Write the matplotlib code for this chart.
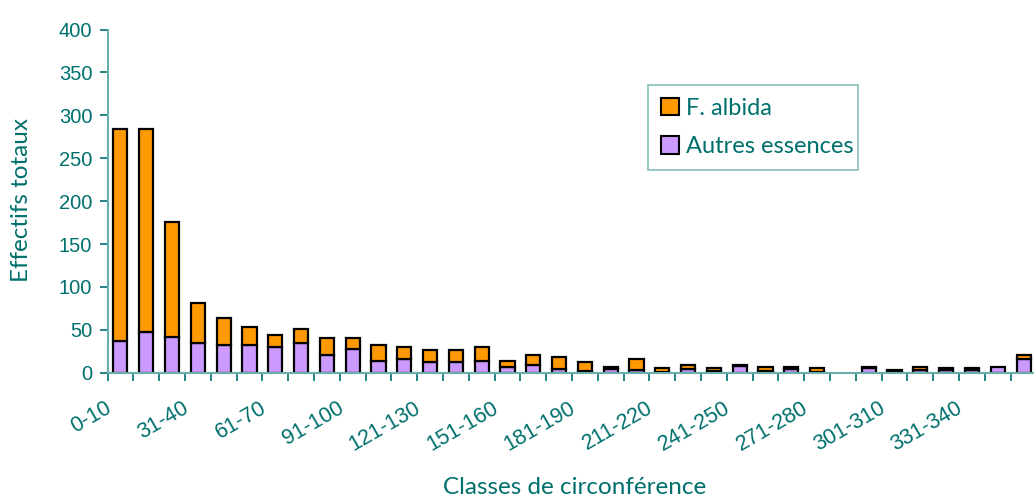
import numpy as np
import matplotlib
matplotlib.use('Agg')
import matplotlib.pyplot as plt
import matplotlib.transforms as mtransforms
from matplotlib.patches import Patch

# classes de circonférence (cm)
classes = ['0-10'] + [f'{10 * k + 1}-{10 * k + 10}' for k in range(1, 36)]

# effectifs
total = [284, 284, 176, 81, 64, 53, 44, 51, 40, 41, 32, 30, 26, 27, 30, 14, 21, 18,
         12, 7, 16, 6, 9, 5, 9, 7, 7, 5, 0, 7, 3, 7, 5, 5, 7, 21]
autres = [37, 48, 42, 35, 32, 32, 30, 35, 21, 28, 14, 16, 12, 12, 14, 7, 9, 4,
          2, 4, 3, 1, 4, 2, 8, 2, 4, 1, 0, 5, 1, 3, 3, 3, 7, 16]
albida = [t - a for t, a in zip(total, autres)]

yticks = [0, 50, 100, 150, 200, 250, 300, 350, 400]

TEXT = '#00706d'
SPINE = '#6aaeab'
ORANGE = '#ff9900'
PURPLE = '#cc99ff'

fig = plt.figure(figsize=(10.34, 4.99), dpi=100)
W, H = 1034, 499
left, right, bottom, top = 107.5, 1036.5, 372.7, 29.5
ax = fig.add_axes([left / W, (H - bottom) / H, (right - left) / W, (bottom - top) / H])

x = np.arange(len(classes))
# pas de contour pour les classes vides
lw_a = [1.6 if v > 0 else 0 for v in autres]
lw_b = [1.6 if v > 0 else 0 for v in albida]
ax.bar(x, autres, width=0.55, color=PURPLE, edgecolor='black', linewidth=lw_a)
ax.bar(x, albida, width=0.55, bottom=autres, color=ORANGE, edgecolor='black', linewidth=lw_b)

ax.set_xlim(-0.5, len(classes) - 0.5)
ax.set_ylim(0, 400)

# axes
for s in ['top', 'right']:
    ax.spines[s].set_visible(False)
for s in ['left', 'bottom']:
    ax.spines[s].set_color(SPINE)
    ax.spines[s].set_linewidth(1.5)

ax.set_yticks(yticks)
ax.set_yticklabels([str(v) for v in yticks])
ax.tick_params(axis='y', direction='out', length=6, width=1.2, color=TEXT,
               labelcolor=TEXT, labelsize=14.5, pad=5)

# ticks entre les classes, étiquettes une classe sur trois
ax.set_xticks(np.arange(-0.5, len(classes), 1.0))
ax.set_xticklabels([])
ax.tick_params(axis='x', which='major', direction='out', length=6, width=1.2, color=TEXT)
lab_pos = x[::3]
ax.set_xticks(lab_pos, minor=True)
ax.set_xticklabels([classes[i] for i in lab_pos], minor=True)
ax.tick_params(axis='x', which='minor', length=0, labelsize=15.5, labelcolor=TEXT, pad=18)
offset = mtransforms.ScaledTranslation(-0.16, 0, fig.dpi_scale_trans)
for lab in ax.get_xticklabels(minor=True):
    lab.set_rotation(30)
    lab.set_ha('right')
    lab.set_va('top')
    lab.set_rotation_mode('anchor')
    lab.set_fontfamily('Liberation Sans')
    lab.set_transform(lab.get_transform() + offset)
for lab in ax.get_yticklabels():
    lab.set_fontfamily('Liberation Sans')

fig.text(575 / W, 1 - 488 / H, 'Classes de circonférence', ha='center', va='center',
         fontsize=17.5, color=TEXT, family='Lato')
fig.text(22 / W, 1 - 200 / H, 'Effectifs totaux', ha='center', va='center', rotation=90,
         fontsize=17.5, color=TEXT, family='Lato')

handles = [Patch(facecolor=ORANGE, edgecolor='black', linewidth=1.5, label='F. albida'),
           Patch(facecolor=PURPLE, edgecolor='black', linewidth=1.5, label='Autres essences')]
leg = ax.legend(handles=handles, loc='center left',
                bbox_to_anchor=(648 / W, 1 - 170 / H, 210 / W, 85 / H),
                bbox_transform=fig.transFigure, mode='expand',
                fancybox=False, frameon=True, handlelength=0.75, handleheight=0.75,
                handletextpad=0.3, labelspacing=0.75, borderpad=0.55, borderaxespad=0,
                prop={'family': 'Lato', 'size': 17})
leg.get_frame().set_edgecolor(SPINE)
leg.get_frame().set_linewidth(1.2)
for t in leg.get_texts():
    t.set_color(TEXT)

fig.savefig('out.png', dpi=100)
